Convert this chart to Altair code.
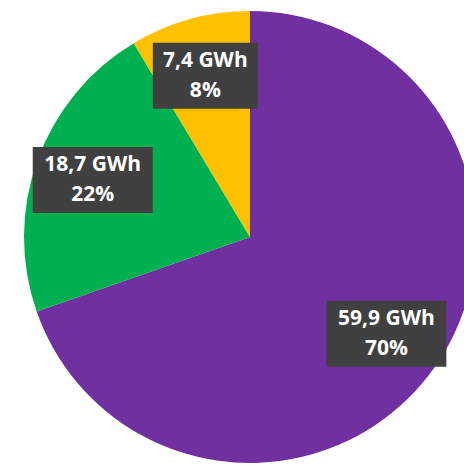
import math
import altair as alt
import pandas as pd

# ---- data ----
segments = ["Segment 1", "Segment 2", "Segment 3"]
energy_gwh = [59.9, 18.7, 7.4]
energy_labels = ["59,9 GWh", "18,7 GWh", "7,4 GWh"]
share_labels = ["70%", "22%", "8%"]
colors = ["#7030A0", "#00B050", "#FFC000"]

# ---- layout / style ----
W, H = 464, 466
CX, CY, R = 250, 237, 226
LABEL_FRAC = 0.74
BOX_PX_PER_CHAR = 15
BOX_H = 66
LINE_H = 30

total = sum(energy_gwh)
rows = []
cum = 0.0
for i, (s, v, el, sl) in enumerate(zip(segments, energy_gwh, energy_labels, share_labels)):
    mid = (cum + v / 2) / total * 2 * math.pi
    cum += v
    lx = LABEL_FRAC * math.sin(mid)
    ly = LABEL_FRAC * math.cos(mid)
    hw = BOX_PX_PER_CHAR * len(el) / 2 / R
    hh = BOX_H / 2 / R
    rows.append({
        "segment": s, "gwh": v, "order": i,
        "label": el + "\n" + sl,
        "lx": lx, "ly": ly,
        "bx1": lx - hw, "bx2": lx + hw,
        "by1": ly - hh, "by2": ly + hh,
    })
df = pd.DataFrame(rows)

xscale = alt.Scale(domain=[-CX / R, (W - CX) / R], nice=False, zero=False)
yscale = alt.Scale(domain=[-(H - CY) / R, CY / R], nice=False, zero=False)

base = alt.Chart(df)

pie = base.mark_arc(outerRadius=R).encode(
    theta=alt.Theta("gwh:Q", stack=True),
    order=alt.Order("order:Q"),
    color=alt.Color("segment:N", scale=alt.Scale(domain=segments, range=colors), legend=None),
    x=alt.value(CX),
    y=alt.value(CY),
)

boxes = base.mark_rect(color="#404040", opacity=1).encode(
    x=alt.X("bx1:Q", scale=xscale, axis=None),
    x2="bx2:Q",
    y=alt.Y("by1:Q", scale=yscale, axis=None),
    y2="by2:Q",
)

texts = base.mark_text(
    color="white", font="Open Sans", fontSize=21, fontWeight="bold",
    lineBreak="\n", lineHeight=LINE_H, align="center", baseline="middle",
    dy=-LINE_H / 2,
).encode(
    x=alt.X("lx:Q", scale=xscale, axis=None),
    y=alt.Y("ly:Q", scale=yscale, axis=None),
    text="label:N",
)

chart = alt.layer(pie, boxes, texts).properties(
    width=W, height=H, padding=0, autosize=alt.AutoSizeParams(type="none"),
    background="white",
).configure_view(stroke=None)

chart.save("out.html", embed_options={"renderer": "svg", "actions": False})
